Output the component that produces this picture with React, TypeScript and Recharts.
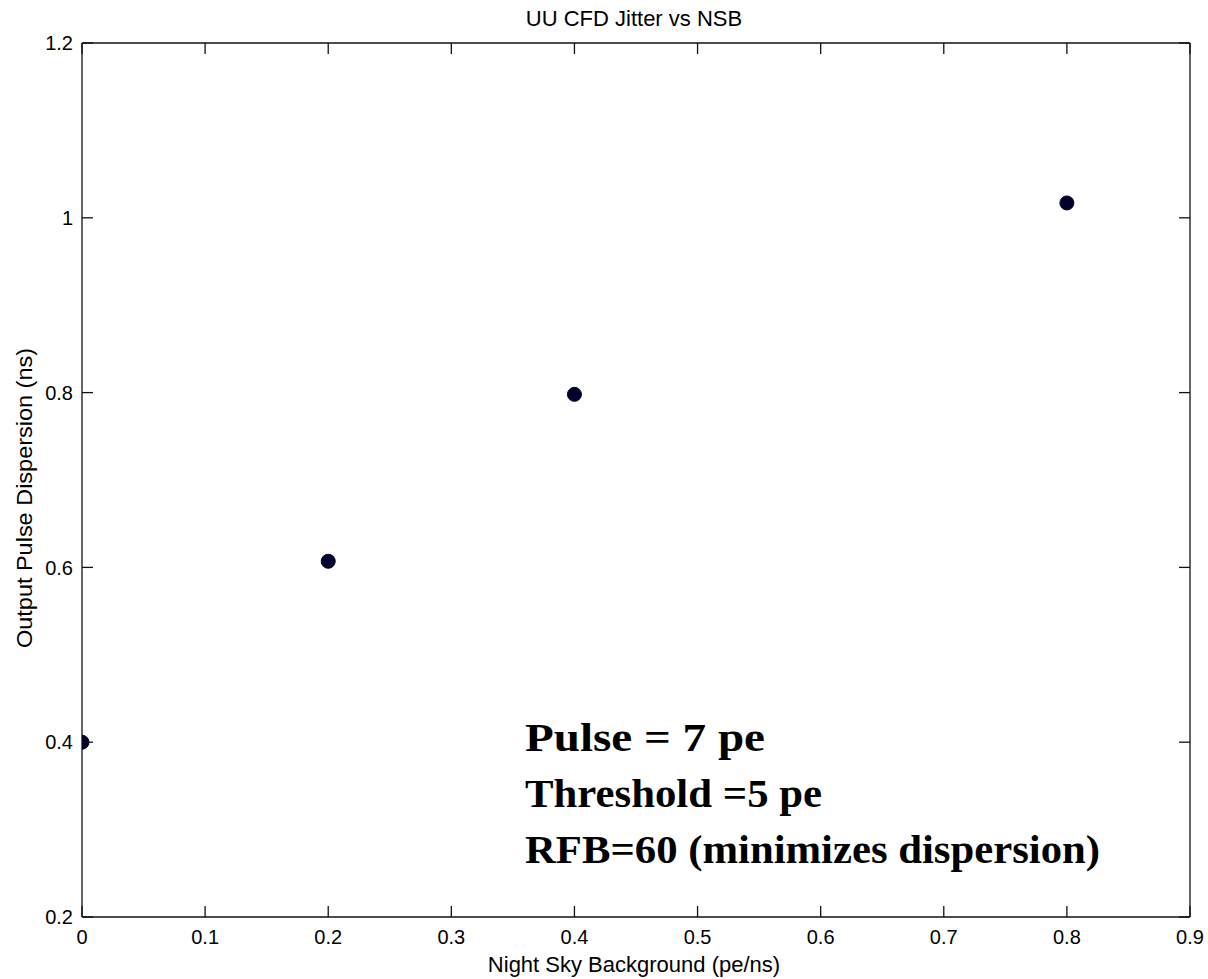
import React from 'react';
import { ScatterChart, Scatter, XAxis, YAxis } from 'recharts';

const nsbValues = [0, 0.2, 0.4, 0.8];
const dispersionValues = [0.4, 0.607, 0.798, 1.017];
const xTicks = [0, 0.1, 0.2, 0.3, 0.4, 0.5, 0.6, 0.7, 0.8, 0.9];
const yTicks = [0.2, 0.4, 0.6, 0.8, 1, 1.2];
const chartTitle = 'UU CFD Jitter vs NSB';
const xLabel = 'Night Sky Background (pe/ns)';
const yLabel = 'Output Pulse Dispersion (ns)';
const noteLines = ['Pulse = 7 pe', 'Threshold =5 pe', 'RFB=60 (minimizes dispersion)'];
const noteWidths = [240, 297, 575];

const data = nsbValues.map((x, i) => ({ x, y: dispersionValues[i] }));

const W = 1208;
const H = 979;
const SANS = '"Liberation Sans", Arial, Helvetica, sans-serif';
const AXIS = '#111';
const TICK = 11;

const BottomTick = (props: any) => {
  const { x, y, payload } = props;
  return (
    <g>
      <line x1={x} y1={y} x2={x} y2={y - TICK} stroke={AXIS} strokeWidth={1.3} />
      <text x={x} y={y + 27} textAnchor="middle" fontSize={20} fontFamily={SANS} fill="#000">
        {String(payload.value)}
      </text>
    </g>
  );
};

const TopTick = (props: any) => {
  const { x, y } = props;
  return <line x1={x} y1={y} x2={x} y2={y + TICK} stroke={AXIS} strokeWidth={1.3} />;
};

const LeftTick = (props: any) => {
  const { x, y, payload } = props;
  return (
    <g>
      <line x1={x} y1={y} x2={x + TICK} y2={y} stroke={AXIS} strokeWidth={1.3} />
      <text x={x - 9} y={y} dy="0.36em" textAnchor="end" fontSize={20} fontFamily={SANS} fill="#000">
        {String(payload.value)}
      </text>
    </g>
  );
};

const RightTick = (props: any) => {
  const { x, y } = props;
  return <line x1={x} y1={y} x2={x - TICK} y2={y} stroke={AXIS} strokeWidth={1.3} />;
};

const Dot = (props: any) => {
  const { cx, cy } = props;
  return <circle cx={cx} cy={cy} r={7} fill="#00002a" stroke="#00002a" strokeWidth={1} />;
};

export default function App() {
  return (
    <div style={{ position: 'absolute', left: 0, top: 0, width: W, height: H, background: '#fff' }}>
      <ScatterChart width={W} height={H} margin={{ top: 42, right: 17, bottom: 0, left: 0 }}>
        <XAxis
          xAxisId="bottom"
          type="number"
          dataKey="x"
          domain={[0, 0.9]}
          ticks={xTicks}
          orientation="bottom"
          height={62}
          tickSize={0}
          tickMargin={0}
          tickLine={false}
          axisLine={{ stroke: AXIS, strokeWidth: 1.3 }}
          tick={BottomTick}
          interval={0}
          allowDataOverflow
        />
        <XAxis
          xAxisId="top"
          type="number"
          dataKey="x"
          domain={[0, 0.9]}
          ticks={xTicks}
          orientation="top"
          height={1}
          tickSize={0}
          tickMargin={0}
          tickLine={false}
          axisLine={{ stroke: AXIS, strokeWidth: 1.3 }}
          tick={TopTick}
          interval={0}
          allowDataOverflow
        />
        <YAxis
          yAxisId="left"
          type="number"
          dataKey="y"
          domain={[0.2, 1.2]}
          ticks={yTicks}
          orientation="left"
          width={82}
          tickSize={0}
          tickMargin={0}
          tickLine={false}
          axisLine={{ stroke: AXIS, strokeWidth: 1.3 }}
          tick={LeftTick}
          interval={0}
          allowDataOverflow
        />
        <YAxis
          yAxisId="right"
          type="number"
          dataKey="y"
          domain={[0.2, 1.2]}
          ticks={yTicks}
          orientation="right"
          width={1}
          tickSize={0}
          tickMargin={0}
          tickLine={false}
          axisLine={{ stroke: AXIS, strokeWidth: 1.3 }}
          tick={RightTick}
          interval={0}
          allowDataOverflow
        />
        <Scatter
          data={data}
          xAxisId="bottom"
          yAxisId="left"
          shape={Dot}
          isAnimationActive={false}
        />
      </ScatterChart>
      <svg
        width={W}
        height={H}
        style={{ position: 'absolute', left: 0, top: 0, pointerEvents: 'none' }}
      >
        <text x={634} y={26} textAnchor="middle" fontSize={22} fontFamily={SANS} fill="#000">
          {chartTitle}
        </text>
        <text x={634} y={972} textAnchor="middle" fontSize={22} fontFamily={SANS} fill="#000">
          {xLabel}
        </text>
        <text
          transform="translate(32, 498) rotate(-90)"
          x={-150}
          y={0}
          fontSize={22}
          fontFamily={SANS}
          fill="#000"
          textLength={300}
          lengthAdjust="spacingAndGlyphs"
        >
          {yLabel}
        </text>
        {noteLines.map((t, i) => (
          <text
            key={t}
            x={525}
            y={751 + i * 56}
            fontSize={39}
            fontWeight="bold"
            fontFamily='"Liberation Serif", "Times New Roman", serif'
            fill="#000"
            textLength={noteWidths[i]}
            lengthAdjust="spacingAndGlyphs"
          >
            {t}
          </text>
        ))}
      </svg>
    </div>
  );
}
